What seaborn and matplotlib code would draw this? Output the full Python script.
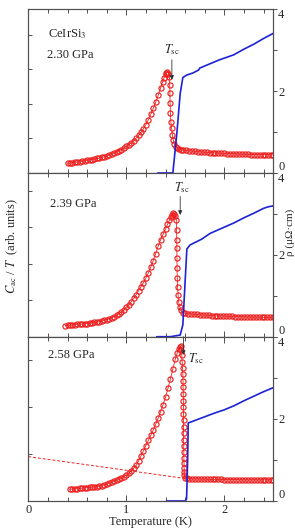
import numpy as np
import pandas as pd
import matplotlib
matplotlib.use('Agg')
import matplotlib.pyplot as plt
from matplotlib.ticker import MultipleLocator
import seaborn as sns

# ---- data ----
pressures = ['2.30 GPa', '2.39 GPa', '2.58 GPa']

# C_ac/T (arb. units), panel 1
t_c1 = [0.400, 0.425, 0.450, 0.475, 0.500, 0.525, 0.550, 0.575, 0.600, 0.625, 0.650, 0.675,
        0.700, 0.725, 0.750, 0.775, 0.800, 0.825, 0.850, 0.875, 0.900, 0.925, 0.950, 0.975,
        1.000, 1.025, 1.050, 1.075, 1.100, 1.125, 1.150, 1.175, 1.200, 1.225, 1.250, 1.275,
        1.300, 1.325, 1.350, 1.370, 1.385, 1.400, 1.410, 1.420, 1.430,
        1.440, 1.443, 1.445, 1.447, 1.450, 1.455, 1.462, 1.470, 1.480, 1.490, 1.505, 1.520,
        1.540, 1.560, 1.580,
        1.61, 1.64, 1.67, 1.70, 1.73, 1.76, 1.79, 1.82, 1.85, 1.88, 1.91, 1.94, 1.97, 2.00,
        2.03, 2.06, 2.09, 2.12, 2.15, 2.18, 2.21, 2.24, 2.27, 2.30, 2.33, 2.36, 2.39, 2.42,
        2.45, 2.48, 2.50]
c1 = [0.28, 0.29, 0.30, 0.31, 0.32, 0.33, 0.34, 0.355, 0.37, 0.38, 0.39, 0.40,
      0.42, 0.43, 0.45, 0.47, 0.49, 0.51, 0.54, 0.57, 0.60, 0.64, 0.68, 0.72,
      0.77, 0.82, 0.88, 0.94, 1.01, 1.09, 1.18, 1.28, 1.40, 1.54, 1.70, 1.87,
      2.05, 2.25, 2.46, 2.63, 2.76, 2.86, 2.91, 2.92, 2.88,
      2.79, 2.55, 2.31, 2.02, 1.73, 1.49, 1.30, 1.10, 0.96, 0.84, 0.76, 0.72,
      0.69, 0.675, 0.665,
      0.655, 0.645, 0.635, 0.625, 0.615, 0.61, 0.60, 0.595, 0.59, 0.585, 0.58, 0.575, 0.57, 0.565,
      0.56, 0.555, 0.555, 0.55, 0.545, 0.545, 0.54, 0.54, 0.535, 0.535, 0.535, 0.53, 0.53, 0.53,
      0.53, 0.525, 0.525]

# panel 2
t_c2 = [0.375, 0.400, 0.425, 0.450, 0.475, 0.500, 0.525, 0.550, 0.575, 0.600, 0.625, 0.650,
        0.675, 0.700, 0.725, 0.750, 0.775, 0.800, 0.825, 0.850, 0.875, 0.900, 0.925, 0.950,
        0.975, 1.000, 1.025, 1.050, 1.075, 1.100, 1.125, 1.150, 1.175, 1.200, 1.225, 1.250,
        1.275, 1.300, 1.325, 1.350, 1.375, 1.400, 1.420, 1.440, 1.455, 1.470, 1.480, 1.490,
        1.500,
        1.510, 1.513, 1.515, 1.516, 1.517, 1.518, 1.520, 1.523, 1.528, 1.535, 1.545, 1.56,
        1.58, 1.60,
        1.63, 1.66, 1.69, 1.72, 1.75, 1.78, 1.81, 1.84, 1.87, 1.90, 1.93, 1.96, 1.99, 2.02,
        2.05, 2.08, 2.11, 2.14, 2.17, 2.20, 2.23, 2.26, 2.29, 2.32, 2.35, 2.38, 2.41, 2.44,
        2.47, 2.50]
c2 = [0.30, 0.31, 0.315, 0.32, 0.33, 0.335, 0.34, 0.35, 0.355, 0.36, 0.37, 0.38,
      0.39, 0.40, 0.41, 0.43, 0.45, 0.47, 0.49, 0.52, 0.55, 0.59, 0.63, 0.68,
      0.74, 0.81, 0.88, 0.96, 1.05, 1.15, 1.26, 1.37, 1.48, 1.61, 1.75, 1.91,
      2.09, 2.28, 2.48, 2.66, 2.81, 2.95, 3.08, 3.20, 3.28, 3.35, 3.39, 3.38,
      3.32,
      3.21, 2.93, 2.66, 2.43, 2.15, 1.88, 1.60, 1.37, 1.15, 0.95, 0.82, 0.72,
      0.66, 0.64,
      0.63, 0.62, 0.615, 0.61, 0.60, 0.595, 0.59, 0.585, 0.58, 0.575, 0.57, 0.57, 0.565, 0.56,
      0.56, 0.555, 0.55, 0.55, 0.545, 0.545, 0.54, 0.54, 0.535, 0.535, 0.535, 0.53, 0.53, 0.53,
      0.53, 0.53]

# panel 3
t_c3 = [0.425, 0.450, 0.475, 0.500, 0.525, 0.550, 0.575, 0.600, 0.625, 0.650, 0.675, 0.700,
        0.725, 0.750, 0.775, 0.800, 0.825, 0.850, 0.875, 0.900, 0.925, 0.950, 0.975, 1.000,
        1.025, 1.050, 1.075, 1.100, 1.125, 1.150, 1.175, 1.200, 1.225, 1.250, 1.275, 1.300,
        1.325, 1.350, 1.375, 1.400, 1.425, 1.450, 1.475, 1.500, 1.520, 1.535, 1.550, 1.558,
        1.562, 1.566, 1.570, 1.574, 1.577, 1.579, 1.580, 1.581, 1.582, 1.583, 1.583, 1.584,
        1.584, 1.585, 1.585, 1.586, 1.587, 1.588, 1.589, 1.590, 1.591, 1.593, 1.600, 1.615,
        1.64, 1.67, 1.70, 1.73, 1.76, 1.79, 1.82, 1.85, 1.88, 1.91, 1.94, 1.97, 2.00, 2.03,
        2.06, 2.09, 2.12, 2.15, 2.18, 2.21, 2.24, 2.27, 2.30, 2.33, 2.36, 2.39, 2.42, 2.45,
        2.48, 2.50]
c3 = [0.25, 0.255, 0.26, 0.265, 0.27, 0.275, 0.28, 0.285, 0.29, 0.295, 0.30, 0.305,
      0.31, 0.33, 0.34, 0.36, 0.38, 0.40, 0.42, 0.44, 0.46, 0.49, 0.52, 0.55,
      0.59, 0.64, 0.70, 0.76, 0.85, 0.96, 1.07, 1.18, 1.29, 1.40, 1.51, 1.63,
      1.76, 1.90, 2.05, 2.21, 2.40, 2.60, 2.81, 3.02, 3.16, 3.24, 3.29, 3.30,
      3.22, 3.10, 2.97, 2.83, 2.70, 2.56, 2.42, 2.28, 2.14, 2.00, 1.86, 1.72,
      1.58, 1.44, 1.30, 1.17, 1.04, 0.92, 0.81, 0.71, 0.62, 0.55, 0.50, 0.48,
      0.475, 0.47, 0.47, 0.47, 0.465, 0.465, 0.465, 0.46, 0.46, 0.46, 0.46, 0.46, 0.455, 0.455,
      0.455, 0.455, 0.455, 0.455, 0.45, 0.45, 0.45, 0.45, 0.45, 0.45, 0.45, 0.45, 0.45, 0.45,
      0.45, 0.45]

# resistivity rho (uOhm cm)
t_r1 = [1.32, 1.40, 1.475, 1.516, 1.55, 1.577, 1.618, 1.68, 1.737, 1.75, 1.85, 1.95, 2.094,
        2.20, 2.30, 2.40, 2.503]
r1 = [0.0, 0.0, 0.0, 0.97, 1.94, 2.33, 2.39, 2.44, 2.51, 2.56, 2.66, 2.76, 2.88,
      3.02, 3.14, 3.28, 3.41]
t_r2 = [1.31, 1.45, 1.55, 1.577, 1.60, 1.618, 1.652, 1.72, 1.77, 1.856, 1.95, 2.094, 2.20,
        2.30, 2.40, 2.45, 2.50]
r2 = [0.0, 0.0, 0.04, 0.29, 1.34, 2.14, 2.24, 2.32, 2.38, 2.52, 2.62, 2.77, 2.90,
      3.01, 3.13, 3.17, 3.19]
t_r3 = [1.41, 1.50, 1.60, 1.615, 1.626, 1.632, 1.70, 1.80, 1.90, 2.00, 2.10, 2.20, 2.30,
        2.40, 2.50]
r3 = [0.0, 0.0, 0.0, 0.05, 1.00, 1.90, 1.96, 2.05, 2.14, 2.22, 2.32, 2.44, 2.55,
      2.66, 2.76]

# dashed normal-state extrapolation (panel 3)
t_dash = [0.0, 1.60]
c_dash = [0.945, 0.48]

# Tsc arrows: (x, tail, tip) in C units, label position
tsc_arrow = [(1.465, 3.28, 2.70), (1.55, 3.85, 3.34), (1.583, 3.50, 3.11)]
tsc_text = [(1.47, 3.57), (1.567, 4.08), (1.713, 3.04)]
c_ylims = [4.75, 4.5, 3.5]
c_ticks = [[1, 2, 3, 4], [1, 2, 3, 4], [1, 2, 3]]

c_data = [(t_c1, c1), (t_c2, c2), (t_c3, c3)]
r_data = [(t_r1, r1), (t_r2, r2), (t_r3, r3)]

sns.set_theme(style='ticks')
plt.rcParams['font.family'] = ['Liberation Serif', 'DejaVu Serif']
plt.rcParams['mathtext.fontset'] = 'stix'

red = '#ee2020'
blue = '#1c22d6'
frame = '#505050'

fig = plt.figure(figsize=(2.95, 5.30), dpi=100)
W = 295.0
H = 530.0
left = 28.3 / W
width = (273.3 - 28.3) / W
tops = [9.0, 172.7, 336.7]
bots = [173.0, 336.7, 501.0]

for i in range(3):
    ax = fig.add_axes([left, 1 - bots[i] / H, width, (bots[i] - tops[i]) / H])
    ax2 = ax.twinx()

    t, c = c_data[i]
    df = pd.DataFrame({'T': t, 'C': c})
    sns.lineplot(data=df, x='T', y='C', ax=ax, sort=False, estimator=None,
                 color=red, lw=0.6, marker='o', markersize=3.7,
                 markerfacecolor='none', markeredgecolor=red, markeredgewidth=0.85)
    if i == 2:
        ax.plot(t_dash, c_dash, color=red, lw=0.7, ls=(0, (3, 2)))

    tr, r = r_data[i]
    dfr = pd.DataFrame({'T': tr, 'rho': r})
    sns.lineplot(data=dfr, x='T', y='rho', ax=ax2, sort=False, estimator=None,
                 color=blue, lw=1.2)

    ax.set_xlim(0, 2.5)
    ax.set_ylim(0, c_ylims[i])
    ax.set_yticks(c_ticks[i])
    ax.set_yticklabels([])
    ax2.set_ylim(0, 4)
    ax2.set_yticks([0, 2, 4])
    ax2.yaxis.set_minor_locator(MultipleLocator(1))

    ax.xaxis.set_major_locator(MultipleLocator(1))
    ax.xaxis.set_minor_locator(MultipleLocator(0.2))
    ax.tick_params(axis='x', which='both', direction='in', top=True, bottom=True,
                   color=frame, width=0.7, labelsize=9, pad=2)
    ax.tick_params(axis='x', which='major', length=4)
    ax.tick_params(axis='x', which='minor', length=3)
    ax.tick_params(axis='y', which='both', direction='in', left=True, right=False,
                   length=3, color=frame, width=0.7)
    ax2.tick_params(axis='y', which='both', direction='out', right=True, length=3,
                    color=frame, width=0.7, labelsize=9, pad=0.5)
    if i < 2:
        ax.set_xticklabels([])
        ax.set_xlabel('')
    else:
        ax.set_xticks([0, 1, 2])
        ax.set_xticklabels(['0', '1', '2'])
        ax.set_xlabel('Temperature (K)', fontsize=9, labelpad=0)
    ax.set_ylabel('')
    ax2.set_ylabel('')
    for a in (ax, ax2):
        for s in a.spines.values():
            s.set_color(frame)
            s.set_linewidth(0.8)

    rticks = ax2.yaxis.get_major_ticks()
    rticks[0].label2.set_va('bottom')
    rticks[2].label2.set_va('top')

    x, tail, tip = tsc_arrow[i]
    ax.annotate('', xy=(x, tip), xytext=(x, tail),
                arrowprops=dict(arrowstyle='-|>', color='#333333', lw=0.6,
                                mutation_scale=6, shrinkA=0, shrinkB=0))
    tx, ty = tsc_text[i]
    ax.text(tx, ty, r'$T_{\rm sc}$', fontsize=9, ha='center', va='center')

    if i == 0:
        ax.text(0.08, 0.85, r'CeIrSi$_3$', transform=ax.transAxes, fontsize=9,
                ha='left', va='center')
        ax.text(0.077, 0.72, pressures[0], transform=ax.transAxes, fontsize=9,
                ha='left', va='center')
    elif i == 1:
        ax.text(0.087, 0.81, pressures[1], transform=ax.transAxes, fontsize=9,
                ha='left', va='center')
    else:
        ax.text(0.08, 0.89, pressures[2], transform=ax.transAxes, fontsize=9,
                ha='left', va='center')

fig.text(12 / W, 1 - 246 / H, r'$C_{\rm ac}$ / $T$  (arb. units)', rotation=90,
         fontsize=9, ha='center', va='center')
fig.text(290.5 / W, 1 - 232 / H, 'ρ (μΩ·cm)', rotation=90, fontsize=8,
         ha='center', va='center')

fig.savefig('out.png', dpi=100)
